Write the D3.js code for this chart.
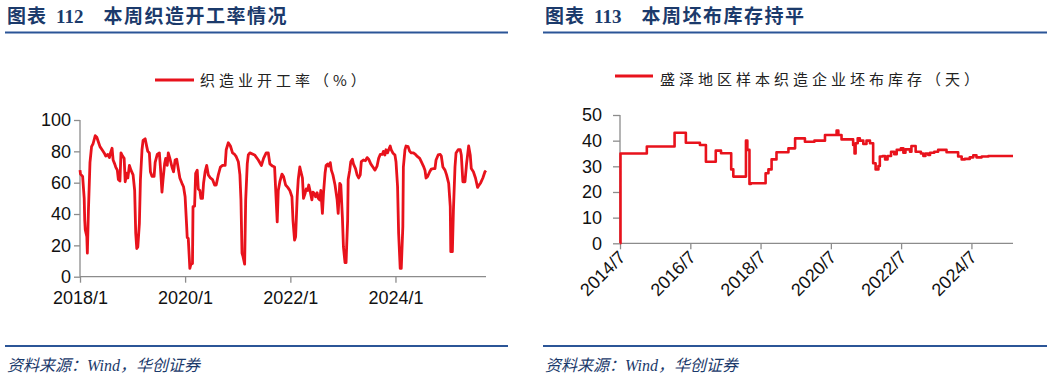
<!DOCTYPE html>
<html><head><meta charset="utf-8">
<script src="https://cdn.jsdelivr.net/npm/d3@7"></script>
<style>
html,body{margin:0;padding:0;background:#fff;}
svg{display:block;}
</style>
</head><body>
<script>
// ---------- DATA ----------
const leftTitleNum = "112";
const leftTitleText = "本周织造开工率情况";
const rightTitleNum = "113";
const rightTitleText = "本周坯布库存持平";
const leftLegend = "织造业开工率（%）";
const rightLegend = "盛泽地区样本织造企业坯布库存（天）";
const sourceText = "资料来源：Wind，华创证券";

const leftTickLabels = ["2018/1","2020/1","2022/1","2024/1"];
const leftYTicks = [0,20,40,60,80,100];
const rightTickLabels = ["2014/7","2016/7","2018/7","2020/7","2022/7","2024/7"];
const rightYTicks = [0,10,20,30,40,50];

// weekly operating rate (%), dates as decimal years
const leftDates = [2018.00,2018.01,2018.05,2018.08,2018.09,2018.10,2018.13,2018.14,2018.16,2018.19,2018.22,2018.25,2018.29,2018.32,2018.35,2018.38,2018.42,2018.46,2018.49,2018.53,2018.56,2018.58,2018.61,2018.63,2018.66,2018.68,2018.71,2018.73,2018.76,2018.78,2018.81,2018.84,2018.86,2018.89,2018.91,2018.94,2018.97,2019.01,2019.04,2019.06,2019.08,2019.10,2019.13,2019.15,2019.18,2019.20,2019.24,2019.27,2019.29,2019.32,2019.34,2019.37,2019.41,2019.43,2019.47,2019.51,2019.53,2019.56,2019.58,2019.61,2019.63,2019.66,2019.68,2019.71,2019.75,2019.78,2019.81,2019.84,2019.86,2019.90,2019.94,2019.97,2020.00,2020.03,2020.04,2020.06,2020.09,2020.11,2020.14,2020.15,2020.18,2020.20,2020.23,2020.25,2020.28,2020.30,2020.33,2020.35,2020.38,2020.41,2020.44,2020.48,2020.52,2020.56,2020.59,2020.63,2020.67,2020.71,2020.76,2020.78,2020.82,2020.86,2020.90,2020.94,2020.97,2021.01,2021.04,2021.06,2021.08,2021.10,2021.13,2021.15,2021.18,2021.20,2021.23,2021.32,2021.39,2021.45,2021.49,2021.54,2021.58,2021.61,2021.66,2021.70,2021.72,2021.75,2021.77,2021.80,2021.84,2021.87,2021.91,2021.95,2021.99,2022.03,2022.05,2022.08,2022.10,2022.13,2022.15,2022.18,2022.20,2022.23,2022.25,2022.28,2022.30,2022.33,2022.35,2022.38,2022.41,2022.43,2022.46,2022.48,2022.51,2022.53,2022.56,2022.58,2022.61,2022.63,2022.66,2022.68,2022.71,2022.73,2022.76,2022.78,2022.81,2022.85,2022.89,2022.91,2022.94,2022.96,2022.99,2023.01,2023.04,2023.06,2023.09,2023.10,2023.13,2023.15,2023.18,2023.20,2023.24,2023.27,2023.30,2023.33,2023.35,2023.39,2023.43,2023.46,2023.49,2023.53,2023.57,2023.61,2023.65,2023.68,2023.71,2023.75,2023.77,2023.80,2023.82,2023.85,2023.87,2023.90,2023.92,2023.95,2023.99,2024.01,2024.04,2024.06,2024.09,2024.11,2024.14,2024.15,2024.18,2024.20,2024.24,2024.27,2024.30,2024.34,2024.38,2024.42,2024.46,2024.49,2024.53,2024.56,2024.58,2024.61,2024.65,2024.68,2024.72,2024.75,2024.77,2024.81,2024.85,2024.87,2024.90,2024.94,2024.97,2025.01,2025.04,2025.05,2025.08,2025.10,2025.13,2025.15,2025.19,2025.23,2025.25,2025.28,2025.32,2025.35,2025.39,2025.42,2025.44,2025.48,2025.52,2025.56,2025.58,2025.62,2025.66,2025.70,2025.72];
const leftValues = [68,65.5,64,50,36,30,25.5,15,42,73,83,85,90,89,86,83,81,79,77,78,76,79,82,74.5,72,70,68,62,61,79,77,75.5,60.6,66,63,71,68,65,55,28,18,19,34,62,81,87,88,83,80,79,67,64,64,73,78,79,70,54,62,72,75.5,71,79,75.5,70,67,74.5,75,71,63,59.6,57.4,51,32,25,24.5,5.3,8,8.5,44.7,45,66,68,56,55,50,50,59.6,67,71,65,63,62,58.5,58.5,65,70,71,71,81,85.5,83.4,79,78,76.6,73.4,65,49,15,12.8,8,49,72,77.7,79,77.7,74.5,71,75.5,79,79,72,70.6,70,56,35,55,60.6,65.5,64,58.5,57,55,51,36,23.4,25.5,51,62,70,67,63,50,53,56,55,58.5,54,49,54,53,51,53.6,50,49,55,40.4,53,66,71,72,70.6,72.8,68,65,58.5,49,40.4,59.6,58.5,38,19,9,9,36,62,68,73.4,75,72,69,65,63,65,73.4,74.5,74,76,75,72,70,68,70.6,75.5,78,78,80,77.7,81,79,81,83.4,81,79,77.7,73.4,57.4,27.7,5.3,5.3,32,70,81,83.4,83,80,79,79,78,76.6,75.5,73.4,70.6,68,63,64,67,68.7,69,69,74.5,77.7,78,77,70,68,65,59.6,44.7,16,16,42.5,70,79,81,81,77.7,60.6,60.6,72,83.4,77.7,69,67,63,57,58,60,63,67,67.7];

// grey-fabric inventory (days), change points, decimal years
const rightDates = [2014.50,2014.51,2015.26,2016.05,2016.37,2016.77,2016.94,2017.22,2017.37,2017.66,2017.72,2018.08,2018.12,2018.18,2018.22,2018.64,2018.72,2018.81,2018.95,2019.29,2019.48,2019.76,2020.03,2020.33,2020.66,2020.71,2020.80,2021.13,2021.17,2021.20,2021.26,2021.32,2021.42,2021.51,2021.61,2021.70,2021.77,2021.85,2021.89,2021.97,2022.04,2022.11,2022.21,2022.30,2022.37,2022.49,2022.56,2022.62,2022.75,2022.79,2022.91,2023.06,2023.13,2023.19,2023.27,2023.32,2023.44,2023.55,2023.79,2024.12,2024.22,2024.31,2024.45,2024.55,2024.64,2024.79,2024.98,2025.68];
const rightValues = [0,35,37.7,43.1,39.2,38.3,31.8,36.1,35.1,28.8,26,40,36.4,23.1,23.4,27.3,28.8,32.7,35.5,37,40.9,39.6,40,42.2,43.9,42.2,40.5,38.3,35,39,40.9,40,38.7,40,39,31.2,28.8,30.1,33.8,34,32.7,34,35.7,34.7,36.4,37,35.3,36.6,35.7,37.9,35.7,35,34,35,34.4,35.3,35.7,36.4,35.5,33.8,32.7,32.9,33.5,34.3,33.5,33.8,34,34];

// ---------- HELPERS ----------
function decToDate(d){
  const y = Math.floor(d);
  const start = new Date(y,0,1), end = new Date(y+1,0,1);
  return new Date(start.getTime() + (d-y)*(end-start));
}
const parseTick = d3.timeParse("%Y/%m");
const RED = "#E8121C";
const NAVY = "#1B3A6B";
const BLUE = "#2B5597";
const AXIS = "#8C8C8C";

const svg = d3.select("body").append("svg").attr("width",1059).attr("height",379);
svg.append("rect").attr("width",1059).attr("height",379).attr("fill","#fff");

// ---------- HEADERS/FOOTERS ----------
function header(x0, x1, num, text){
  const t = svg.append("text").attr("x",x0+2).attr("y",23).attr("fill",NAVY)
    .style("font-weight","bold").style("font-size","19px");
  t.append("tspan").style("font-family","'Noto Sans CJK SC'").style("letter-spacing","1px").text("图表");
  t.append("tspan").attr("dx",9).style("font-family","'Liberation Serif'").text(num);
  t.append("tspan").attr("dx",20).style("font-family","'Noto Sans CJK SC'").style("letter-spacing","1.5px").text(text);
  svg.append("line").attr("x1",x0).attr("x2",x1).attr("y1",32.5).attr("y2",32.5)
    .attr("stroke",BLUE).attr("stroke-width",2);
  svg.append("line").attr("x1",x0).attr("x2",x1).attr("y1",346).attr("y2",346)
    .attr("stroke",BLUE).attr("stroke-width",2);
  svg.append("text").attr("x",x0+2).attr("y",371).attr("fill",NAVY)
    .style("font-family","'Liberation Serif','Noto Sans CJK SC'").style("font-style","italic")
    .style("font-size","16px").text(sourceText);
}
header(5, 508, leftTitleNum, leftTitleText);
header(543, 1047, rightTitleNum, rightTitleText);

// ---------- LEFT CHART ----------
{
  const x = d3.scaleTime().domain([decToDate(2018.0), decToDate(leftDates[leftDates.length-1])]).range([80,486]);
  const y = d3.scaleLinear().domain([0,100]).range([276.7,120]);
  const g = svg.append("g");
  const ya = g.append("g").attr("transform","translate(80,0)")
    .call(d3.axisLeft(y).tickValues(leftYTicks).tickSize(6).tickPadding(3));
  const xa = g.append("g").attr("transform","translate(0,276.7)")
    .call(d3.axisBottom(x).tickValues(leftTickLabels.map(parseTick)).tickSize(6).tickPadding(9)
      .tickFormat(d3.timeFormat("%Y/%-m")));
  [ya,xa].forEach(a=>{
    a.select(".domain").attr("stroke",AXIS).attr("stroke-width",1.3);
    a.selectAll(".tick line").attr("stroke",AXIS).attr("stroke-width",1.3);
    a.selectAll(".tick text").attr("fill","#111").style("font-family","'Liberation Sans',Arial").style("font-size","18px");
  });
  ya.select(".domain").attr("d","M0,276.7V120");
  xa.select(".domain").attr("d","M80,0H486");
  const pts = leftDates.map((d,i)=>[decToDate(d), leftValues[i]]);
  g.append("path").datum(pts).attr("fill","none").attr("stroke",RED).attr("stroke-width",2.8)
    .attr("stroke-linejoin","round")
    .attr("d", d3.line().x(d=>x(d[0])).y(d=>y(d[1])));
  // legend
  svg.append("line").attr("x1",155).attr("x2",194).attr("y1",80).attr("y2",80).attr("stroke",RED).attr("stroke-width",3);
  svg.append("text").attr("x",200).attr("y",86).attr("fill","#222")
    .style("font-family","'Noto Sans CJK SC'").style("font-size","15px").style("letter-spacing","4px").text(leftLegend);
}

// ---------- RIGHT CHART ----------
{
  const x = d3.scaleTime().domain([parseTick("2014/7"), decToDate(rightDates[rightDates.length-1])]).range([620,1013]);
  const y = d3.scaleLinear().domain([0,50]).range([243.3,115]);
  const g = svg.append("g");
  const ya = g.append("g").attr("transform","translate(620,0)")
    .call(d3.axisLeft(y).tickValues(rightYTicks).tickSize(7).tickPadding(11));
  const xa = g.append("g").attr("transform","translate(0,243.3)")
    .call(d3.axisBottom(x).tickValues(rightTickLabels.map(parseTick)).tickSize(6)
      .tickFormat(d3.timeFormat("%Y/%-m")));
  [ya,xa].forEach(a=>{
    a.select(".domain").attr("stroke",AXIS).attr("stroke-width",1.3);
    a.selectAll(".tick line").attr("stroke",AXIS).attr("stroke-width",1.3);
    a.selectAll(".tick text").attr("fill","#111").style("font-family","'Liberation Sans',Arial").style("font-size","18px");
  });
  ya.select(".domain").attr("d","M0,243.3V115");
  xa.select(".domain").attr("d","M620,0H1013");
  xa.selectAll(".tick text").attr("text-anchor","end").attr("dy",null).attr("y",null)
    .attr("transform","translate(6,15) rotate(-45)");
  const pts = rightDates.map((d,i)=>[decToDate(d), rightValues[i]]);
  g.append("path").datum(pts).attr("fill","none").attr("stroke",RED).attr("stroke-width",2.6)
    .attr("stroke-linejoin","round")
    .attr("d", d3.line().curve(d3.curveStepAfter).x(d=>x(d[0])).y(d=>y(d[1])));
  svg.append("line").attr("x1",615).attr("x2",653).attr("y1",76).attr("y2",76).attr("stroke",RED).attr("stroke-width",3);
  svg.append("text").attr("x",660).attr("y",85).attr("fill","#222")
    .style("font-family","'Noto Sans CJK SC'").style("font-size","15px").style("letter-spacing","4px").text(rightLegend);
}
</script>
</body></html>
